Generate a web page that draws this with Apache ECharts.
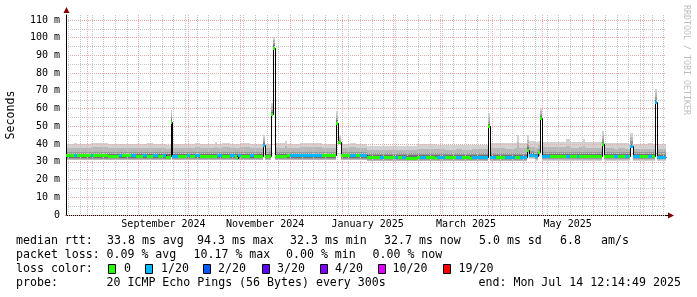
<!DOCTYPE html>
<html><head><meta charset="utf-8">
<script src="https://cdn.jsdelivr.net/npm/echarts@6/dist/echarts.min.js"></script>
<style>html,body{margin:0;padding:0;background:#fff}#c{width:697px;height:297px}</style>
</head><body><div id="c"></div>
<script>
// ---------- time range (360 days ending at probe end) ----------
const START = Date.UTC(2024, 6, 19, 12, 14, 49);
const END = Date.UTC(2025, 6, 14, 12, 14, 49);
const DAY = 86400000;

// ---------- data: each entry holds from its day offset until the next one ----------
const dayOffsets = [0,4.8,6.6,15,16.2,25.2,31.8,33.6,39,42,
 46.2,48.6,52.2,55.2,58.2,60,62.4,63,63.6,67.2,
 72.6,74.4,77.4,80.4,89.4,90.6,93.6,98.4,101.4,102.6,
 103.2,105,110.4,112.8,118.2,119.4,123,124.2,125.4,131.4,
 132.6,134.4,140.4,153.6,162,163.2,165,170.4,174,176.4,
 180.6,188.4,190.8,197.4,199.2,201.6,204,210.6,212.4,216,
 221.4,222.6,227.4,234,237.6,242.4,243.6,253.2,254.4,258,
 263.4,269.4,270.6,271.8,272.4,276.6,277.8,281.4,283.2,284.4,
 285.6,290.4,300,302.4,306.6,307.8,310.2,311.4,321.6,322.8,
 328.8,331.2,335.4,337.8,338.4,340.2,344.4,349.2,351.6,353.4,
 354.6,360];
const medianMs = [33.6,33.6,33.6,33.7,33.6,33.5,33.6,33.6,33.7,33.5,
 33.7,33.5,33.6,33.5,33.6,32.6,33.2,52.6,33.5,33.4,
 33.6,33.5,33.7,33.5,33.5,33.6,33.5,33.7,33.4,32.4,
 33.6,33.5,33.6,33.5,39.4,33.5,56.7,94.3,33.5,33.5,
 33.6,33.7,33.8,33.6,52.0,41.0,33.6,33.7,33.6,33.8,
 32.6,32.6,32.5,32.6,32.5,32.6,32.4,32.5,32.6,32.5,
 32.0,32.6,32.6,32.7,32.6,32.0,32.6,50.1,32.7,32.7,
 32.8,32.7,32.7,32.7,32.8,36.8,33.8,33.4,35.4,54.8,
 33.4,33.3,33.4,33.3,33.4,33.3,33.3,33.3,39.8,33.2,
 33.3,33.2,33.3,33.2,38.8,33.2,33.2,33.3,33.2,63.6,
 32.9,32.9];
const lossLevel = [0,1,0,1,0,0,1,0,1,0,
 1,0,1,0,1,0,0,0,1,0,
 1,0,1,0,0,1,0,1,0,0,
 1,0,1,0,1,0,0,0,0,0,
 0,1,1,0,0,0,0,1,0,1,
 0,1,0,1,0,1,0,0,1,0,
 0,1,0,1,0,0,1,0,1,0,
 1,0,0,0,1,0,1,1,0,0,
 1,0,1,0,1,0,0,0,0,0,
 1,0,1,0,1,1,0,1,0,1,
 1,1];
const smokeOuterLo = [30.8,30.8,30.8,30.8,30.8,30.8,30.8,30.8,30.8,30.8,
 30.8,30.8,30.8,30.8,30.8,30.8,30.8,51.8,30.8,30.8,
 30.8,30.8,30.8,30.8,30.8,30.8,30.8,30.8,30.8,30.8,
 30.8,30.8,30.8,30.8,38.5,30.8,55.8,93.5,30.8,30.8,
 30.8,30.8,30.8,30.8,51.3,40.3,30.8,30.8,30.8,30.8,
 30.2,30.2,30.2,30.2,30.2,30.2,30.2,30.2,30.2,30.2,
 30.2,30.2,30.2,30.2,30.2,30.2,30.2,49.3,30.2,30.2,
 30.2,30.2,30.2,30.2,30.2,33.5,31.5,30.6,33.0,54.0,
 30.6,30.6,30.6,30.6,30.6,30.6,30.6,30.6,39.0,30.6,
 30.6,30.6,30.6,30.6,38.0,30.6,30.6,30.6,30.6,62.8,
 30.6,30.6];
const smokeOuterHi = [40.2,40.4,40.0,40.6,40.6,39.8,40.0,40.2,40.3,40.1,
 40.0,40.4,40.2,40.0,40.1,39.6,40.0,59.5,40.2,40.0,
 40.3,40.1,40.4,40.2,41.2,40.3,40.6,40.2,40.0,39.8,
 40.2,40.4,40.2,40.3,45.4,40.2,63.4,100.5,40.4,41.6,
 40.2,40.3,40.5,40.2,58.5,44.5,40.3,40.4,40.2,40.3,
 38.9,38.8,38.9,39.0,38.8,39.1,38.9,40.1,40.2,40.0,
 39.8,39.6,39.5,39.6,39.4,39.3,39.6,57.6,40.5,40.6,
 40.4,40.6,45.4,40.5,40.7,45.0,41.5,41.0,41.5,60.5,
 41.2,41.4,43.0,41.0,41.2,41.4,42.6,41.2,47.3,40.6,
 40.5,40.6,40.4,40.3,46.4,40.3,40.2,40.4,40.2,70.8,
 40.2,40.2];
const smokeMidLo = [31.3,31.3,31.3,31.3,31.3,31.3,31.3,31.3,31.3,31.3,
 31.3,31.3,31.3,31.3,31.3,31.3,31.3,52.2,31.3,31.3,
 31.3,31.3,31.3,31.3,31.3,31.3,31.3,31.3,31.3,31.3,
 31.3,31.3,31.3,31.3,38.9,31.3,56.2,93.9,31.3,31.3,
 31.3,31.3,31.3,31.3,51.6,40.6,31.3,31.3,31.3,31.3,
 30.7,30.7,30.7,30.7,30.7,30.7,30.7,30.7,30.7,30.7,
 30.7,30.7,30.7,30.7,30.7,30.7,30.7,49.6,30.7,30.7,
 30.7,30.7,30.7,30.7,30.7,34.5,32.0,31.1,33.5,54.3,
 31.1,31.1,31.1,31.1,31.1,31.1,31.1,31.1,39.3,31.1,
 31.1,31.1,31.1,31.1,38.3,31.1,31.1,31.1,31.1,63.1,
 31.1,31.1];
const smokeMidHi = [37.9,38.0,37.8,38.2,38.1,37.6,37.8,37.9,38.0,37.8,
 37.8,38.0,37.9,37.7,37.9,37.4,37.8,57.5,37.9,37.7,
 38.0,37.8,38.1,37.9,38.4,37.9,38.2,37.9,37.7,37.5,
 37.9,38.1,37.9,38.0,43.5,37.9,61.5,98.8,38.0,38.8,
 37.9,38.0,38.1,37.9,56.5,43.3,38.0,38.1,37.9,38.0,
 36.6,36.5,36.6,36.7,36.5,36.8,36.6,37.4,37.5,37.3,
 37.1,37.0,36.9,37.0,36.8,36.7,37.0,55.5,37.6,37.7,
 37.5,37.7,41.0,37.6,37.8,42.5,38.5,38.0,39.5,58.8,
 38.1,38.2,39.0,37.9,38.0,38.2,38.8,38.0,45.0,37.6,
 37.5,37.6,37.5,37.4,44.2,37.4,37.3,37.5,37.4,68.8,
 37.3,37.3];
const smokeCoreLo = [31.8,31.8,31.8,31.8,31.8,31.8,31.8,31.8,31.8,31.8,
 31.8,31.8,31.8,31.8,31.8,31.8,31.8,52.4,31.8,31.8,
 31.8,31.8,31.8,31.8,31.8,31.8,31.8,31.8,31.8,31.8,
 31.8,31.8,31.8,31.8,39.1,31.8,56.4,94.1,31.8,31.8,
 31.8,31.8,31.8,31.8,51.8,40.8,31.8,31.8,31.8,31.8,
 31.1,31.1,31.1,31.1,31.1,31.1,31.1,31.1,31.1,31.1,
 31.1,31.1,31.1,31.1,31.1,31.1,31.1,49.8,31.1,31.1,
 31.1,31.1,31.1,31.1,31.1,35.3,32.5,31.6,34.0,54.5,
 31.6,31.6,31.6,31.6,31.6,31.6,31.6,31.6,39.5,31.6,
 31.6,31.6,31.6,31.6,38.5,31.6,31.6,31.6,31.6,63.3,
 31.6,31.6];
const smokeCoreHi = [35.6,35.6,35.6,35.6,35.6,35.6,35.6,35.6,35.6,35.6,
 35.6,35.6,35.6,35.6,35.6,35.6,35.6,55.5,35.6,35.6,
 35.6,35.6,35.6,35.6,35.6,35.6,35.6,35.6,35.6,35.6,
 35.6,35.6,35.6,35.6,42.0,35.6,59.5,96.8,35.6,35.6,
 35.6,35.6,35.6,35.6,54.5,42.5,35.6,35.6,35.6,35.6,
 34.7,34.7,34.7,34.7,34.7,34.7,34.7,34.7,34.7,34.7,
 34.7,34.7,34.7,34.7,34.7,34.7,34.7,53.2,34.9,34.9,
 34.9,34.9,34.9,34.9,34.9,40.0,36.0,35.3,37.5,57.0,
 35.3,35.3,35.3,35.3,35.3,35.3,35.3,35.3,42.8,35.3,
 35.3,35.3,35.3,35.3,42.0,35.3,35.3,35.3,35.3,66.5,
 35.3,35.3];
const smokeInnerLo = [32.2,32.2,32.2,32.2,32.2,32.2,32.2,32.2,32.2,32.2,
 32.2,32.2,32.2,32.2,32.2,32.2,32.2,52.5,32.2,32.2,
 32.2,32.2,32.2,32.2,32.2,32.2,32.2,32.2,32.2,32.2,
 32.2,32.2,32.2,32.2,39.2,32.2,56.5,94.2,32.2,32.2,
 32.2,32.2,32.2,32.2,51.9,40.9,32.2,32.2,32.2,32.2,
 31.5,31.5,31.5,31.5,31.5,31.5,31.5,31.5,31.5,31.5,
 31.5,31.5,31.5,31.5,31.5,31.5,31.5,49.9,31.6,31.6,
 31.6,31.6,31.6,31.6,31.6,35.8,32.9,32.0,34.4,54.6,
 32.0,32.0,32.0,32.0,32.0,32.0,32.0,32.0,39.6,32.0,
 32.0,32.0,32.0,32.0,38.6,32.0,32.0,32.0,32.0,63.4,
 31.8,31.8];
const smokeInnerHi = [34.6,34.6,34.6,34.6,34.6,34.6,34.6,34.6,34.6,34.6,
 34.6,34.6,34.6,34.6,34.6,34.6,34.6,54.0,34.6,34.6,
 34.6,34.6,34.6,34.6,34.6,34.6,34.6,34.6,34.6,34.6,
 34.6,34.6,34.6,34.6,40.6,34.6,58.0,95.6,34.6,34.6,
 34.6,34.6,34.6,34.6,53.4,41.8,34.6,34.6,34.6,34.6,
 33.6,33.6,33.6,33.6,33.6,33.6,33.6,33.6,33.6,33.6,
 33.6,33.6,33.6,33.6,33.6,33.6,33.6,51.4,33.8,33.8,
 33.8,33.8,33.8,33.8,33.8,38.2,34.9,34.3,36.3,55.8,
 34.3,34.3,34.3,34.3,34.3,34.3,34.3,34.3,41.0,34.3,
 34.3,34.3,34.3,34.3,40.0,34.3,34.3,34.3,34.3,64.8,
 34.0,34.0];

// ---------- axis / legend texts ----------
const yMaxMs = 112.8;
const yTickStepMs = 10;
const xLabelMonths = [[2024, 8], [2024, 10], [2025, 0], [2025, 2], [2025, 4]];
const xLabelTexts = ['September 2024', 'November 2024', 'January 2025', 'March 2025', 'May 2025'];
const lossLabels = ['0', '1/20', '2/20', '3/20', '4/20', '10/20', '19/20'];
const lossColors = ['#26ff00', '#00b8ff', '#0059ff', '#5e00ff', '#7e00ff', '#dd00ff', '#ff0000'];
const medianRttTexts = ['median rtt:', '33.8 ms avg', '94.3 ms max', '32.3 ms min', '32.7 ms now', '5.0 ms sd', '6.8', 'am/s'];
const packetLossTexts = ['packet loss:', '0.09 % avg', '10.17 % max', '0.00 % min', '0.00 % now'];
const probeTexts = ['probe:', '20 ICMP Echo Pings (56 Bytes) every 300s', 'end: Mon Jul 14 12:14:49 2025'];

// ---------- layout / style ----------
const MONO = 'DejaVu Sans Mono';
const GRID_GRAY = '#c6c6c6';
const GRID_RED = '#eeaaaa';
const SMOKE_FILLS = ['#d2d2d2', '#b8b8b8', '#9a9a9a', '#727272'];
const ARROW = '#800000';

const times = dayOffsets.map(d => START + d * DAY);
const n = times.length;

const smokeData = [], bandData = [];
for (let i = 0; i < n - 1; i++) {
  smokeData.push([times[i], times[i + 1], smokeOuterLo[i], smokeOuterHi[i], smokeMidLo[i], smokeMidHi[i],
    smokeCoreLo[i], smokeCoreHi[i], smokeInnerLo[i], smokeInnerHi[i]]);
  bandData.push([times[i], times[i + 1], medianMs[i], lossLevel[i], i > 0 ? medianMs[i - 1] : medianMs[i]]);
}

// calendar grid lines: weekly (Sunday) minor, monthly major
const weekLines = [], monthLines = [];
for (let t = Date.UTC(2024, 6, 19); t <= END; t += DAY) {
  const d = new Date(t);
  if (t < START) continue;
  if (d.getUTCDate() === 1) monthLines.push([t]);
  else if (d.getUTCDay() === 0) weekLines.push([t]);
}
const labelTimes = xLabelMonths.map(([y, m]) => (Date.UTC(y, m, 1) + Date.UTC(y, m + 1, 1)) / 2);

function vLineSeries(data, color, z) {
  return {
    type: 'custom', data, z, silent: true, encode: { x: 0 },
    renderItem: (p, api) => {
      const x = Math.round(api.coord([api.value(0), 0])[0]) + 0.5;
      const top = api.coord([api.value(0), yMaxMs])[1];
      const bot = api.coord([api.value(0), 0])[1];
      return { type: 'line', shape: { x1: x, y1: top, x2: x, y2: bot },
        style: { stroke: color, lineWidth: 1, lineDash: [1, 1] } };
    }
  };
}

const chart = echarts.init(document.getElementById('c'), null, { renderer: 'canvas' });

const texts = [];
function addText(x, y, s, size, extra) {
  texts.push(Object.assign({ type: 'text', x, y, silent: true,
    style: { text: s, font: size + 'px "' + MONO + '"', fill: '#000', textAlign: 'left',
      verticalAlign: 'middle', textVerticalAlign: 'middle' } }, extra || {}));
}
const row1X = [16, 107, 197, 290, 384, 479, 560, 601];
medianRttTexts.forEach((s, i) => addText(row1X[i], 241, s, 11.6));
const row2X = [16, 106.5, 193.5, 286, 372.5];
packetLossTexts.forEach((s, i) => addText(row2X[i], 255, s, 11.6));
addText(16, 269, 'loss color:', 11.6);
const boxX = [108.5, 145.5, 203.5, 262.5, 320.5, 378.5, 443.5];
const boxLabelX = [124, 161, 218, 277, 335, 392.5, 458.5];
lossLabels.forEach((s, i) => {
  texts.push({ type: 'rect', silent: true, shape: { x: boxX[i], y: 264.5, width: 7, height: 9 },
    style: { fill: lossColors[i], stroke: '#000', lineWidth: 1 } });
  addText(boxLabelX[i], 269, s, 11.6);
});
const row4X = [16, 106.5, 478.5];
probeTexts.forEach((s, i) => addText(row4X[i], 283, s, 11.6));
// watermark
texts.push({ type: 'text', x: 686, y: 5, rotation: -Math.PI / 2, silent: true,
  style: { text: 'RRDTOOL / TOBI OETIKER', font: '8.3px "' + MONO + '"', fill: '#bdbdbd',
    textAlign: 'left', verticalAlign: 'middle', textVerticalAlign: 'middle' } });
// axis arrows
texts.push({ type: 'polygon', silent: true, shape: { points: [[63.5, 13], [69.5, 13], [66.5, 7]] }, style: { fill: ARROW } });
texts.push({ type: 'polygon', silent: true, shape: { points: [[668, 212.5], [668, 218.5], [674, 215.5]] }, style: { fill: ARROW } });
texts.push({ type: 'line', silent: true, shape: { x1: 666, y1: 215.5, x2: 669, y2: 215.5 }, style: { stroke: '#000', lineWidth: 1 } });

chart.setOption({
  animation: false,
  backgroundColor: '#ffffff',
  grid: { left: 66, top: 15, width: 600, height: 200, containLabel: false, outerBoundsMode: 'none' },
  xAxis: {
    type: 'value', min: START, max: END,
    axisLine: { show: true, onZero: false, lineStyle: { color: '#000', width: 1 } },
    axisTick: { show: false },
    splitLine: { show: false },
    axisLabel: {
      customValues: labelTimes,
      formatter: v => { const k = labelTimes.indexOf(v); return k >= 0 ? xLabelTexts[k] : ''; },
      fontFamily: MONO, fontSize: 10, color: '#000', margin: 4
    }
  },
  yAxis: {
    type: 'value', min: 0, max: yMaxMs, interval: yTickStepMs, z: 2,
    axisLine: { show: true, lineStyle: { color: '#000', width: 1 } },
    axisTick: { show: false },
    axisLabel: { formatter: v => v === 0 ? '0' : v + ' m', fontFamily: MONO, fontSize: 10, color: '#000',
      margin: 6, showMaxLabel: false },
    splitLine: { show: true, showMaxLine: false, lineStyle: { color: GRID_RED, type: [1, 1], width: 1 } },
    minorTick: { show: false, splitNumber: 2 },
    minorSplitLine: { show: true, lineStyle: { color: GRID_GRAY, type: [1, 1], width: 1 } },
    name: 'Seconds', nameLocation: 'middle', nameRotate: 90, nameGap: 49,
    nameTextStyle: { fontFamily: MONO, fontSize: 11.6, color: '#000' }
  },
  series: [
    {
      type: 'custom', name: 'smoke', z: 1, silent: true, data: smokeData,
      encode: { x: [0, 1], y: [2, 3] },
      renderItem: (p, api) => {
        const t0 = api.value(0);
        const x0 = Math.round(api.coord([t0, 0])[0]);
        const x1 = Math.round(api.coord([api.value(1), 0])[0]);
        const children = SMOKE_FILLS.map((fill, k) => {
          const yLo = Math.round(api.coord([t0, api.value(2 + 2 * k)])[1]);
          const yHi = Math.round(api.coord([t0, api.value(3 + 2 * k)])[1]);
          return { type: 'rect', shape: { x: x0, y: yHi, width: x1 - x0, height: yLo - yHi }, style: { fill } };
        });
        return { type: 'group', children };
      }
    },
    vLineSeries(weekLines, GRID_GRAY, 2),
    vLineSeries(monthLines, GRID_RED, 2),
    {
      type: 'custom', name: 'median line', z: 3, silent: true, data: bandData,
      encode: { x: [0, 1], y: 2 },
      renderItem: (p, api) => {
        const t0 = api.value(0);
        const x0 = Math.round(api.coord([t0, 0])[0]) + 0.5;
        const x1 = Math.round(api.coord([api.value(1), 0])[0]) + 0.5;
        const y = Math.round(api.coord([t0, api.value(2)])[1]) + 0.5;
        const yp = Math.round(api.coord([t0, api.value(4)])[1]) + 0.5;
        return { type: 'polyline', shape: { points: [[x0, yp], [x0, y], [x1, y]] },
          style: { stroke: '#000', lineWidth: 1, fill: null } };
      }
    },
    {
      type: 'custom', name: 'median loss', z: 4, silent: true, data: bandData,
      encode: { x: [0, 1], y: 2 },
      renderItem: (p, api) => {
        const t0 = api.value(0);
        const x0 = Math.round(api.coord([t0, 0])[0]);
        const x1 = Math.round(api.coord([api.value(1), 0])[0]);
        const y = Math.round(api.coord([t0, api.value(2)])[1]);
        return { type: 'rect', shape: { x: x0, y: y - 1, width: x1 - x0, height: 3 },
          style: { fill: lossColors[api.value(3)] } };
      }
    }
  ],
  graphic: texts
});
</script>
</body></html>
